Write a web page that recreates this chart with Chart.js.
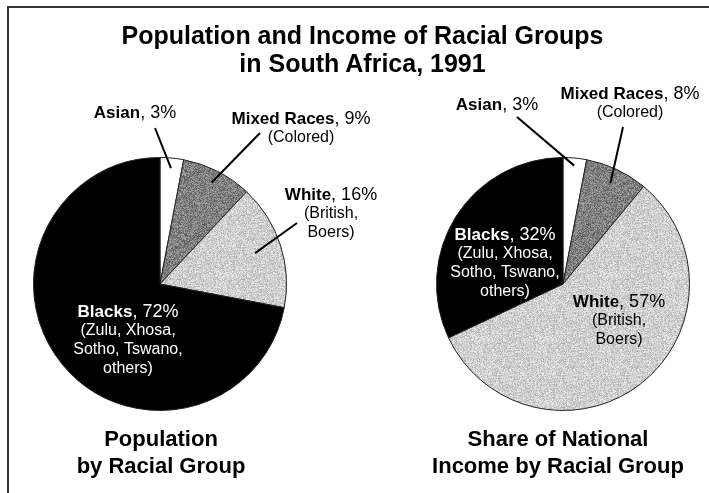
<!DOCTYPE html>
<html><head><meta charset="utf-8">
<script src="https://cdn.jsdelivr.net/npm/chart.js@4.4.0/dist/chart.umd.min.js"></script>
<style>
html,body{margin:0;padding:0;background:#fff;}
#wrap{position:relative;width:709px;height:493px;overflow:hidden;background:#fff;font-family:"Liberation Sans",Arial,Helvetica,sans-serif;}
#frame{position:absolute;left:7px;top:6px;width:800px;height:600px;border-left:2px solid #333;border-top:2px solid #333;}
canvas{position:absolute;left:0;top:0;}
.t{position:absolute;text-align:center;font-weight:bold;color:#000;white-space:nowrap;}
</style></head><body>
<div id="wrap">
<div id="frame"></div>
<canvas id="c1" width="709" height="493" style="width:709px;height:493px"></canvas>
<canvas id="c2" width="709" height="493" style="width:709px;height:493px"></canvas>
<div class="t" style="left:8px;width:709px;top:21px;font-size:25px;line-height:28px;">Population and Income of Racial Groups<br>in South Africa, 1991</div>
<div class="t" style="left:11px;width:300px;top:425px;font-size:22px;line-height:27px;">Population<br>by Racial Group</div>
<div class="t" style="left:408px;width:300px;top:425px;font-size:22px;line-height:27px;">Share of National<br>Income by Racial Group</div>
</div>
<script>
// ---- data ----
const categories = ["Asian", "Mixed Races", "White", "Blacks"];
const populationShare = [3, 9, 16, 72];
const incomeShare = [3, 8, 57, 32];
const groupNotes = [[], ["(Colored)"], ["(British,", "Boers)"], ["(Zulu, Xhosa,", "Sotho, Tswano,", "others)"]];

// ---- speckled fills ----
function speckle(base, spread, seed){
  const n = 64, c = document.createElement('canvas'); c.width = c.height = n;
  const g = c.getContext('2d'), img = g.createImageData(n, n);
  let s = seed;
  for (let i = 0; i < n*n; i++){
    s = (s * 1103515245 + 12345) & 0x7fffffff;
    const v = Math.max(0, Math.min(255, base + ((s >> 8) % (2*spread+1)) - spread));
    img.data[i*4] = img.data[i*4+1] = img.data[i*4+2] = v; img.data[i*4+3] = 255;
  }
  g.putImageData(img, 0, 0);
  return document.getElementById('c1').getContext('2d').createPattern(c, 'repeat');
}
const darkFill = speckle(128, 40, 7);
const lightFill = speckle(207, 30, 11);
const sliceColors = ["#ffffff", darkFill, lightFill, "#000000"];

const FONT = '"Liberation Sans", Arial, Helvetica, sans-serif';
const labelPlugin = {
  id: 'sliceLabels',
  afterDatasetsDraw(chart, args, opts){
    const ctx = chart.ctx, meta = chart.getDatasetMeta(0);
    const vals = chart.data.datasets[0].data;
    ctx.save();
    opts.layout.forEach((L, i) => {
      const p = meta.data[i].getProps(['x','y','startAngle','endAngle','outerRadius'], true);
      const cx = p.x, cy = p.y, R = p.outerRadius;
      if (L.lead){
        const mid = (p.startAngle + p.endAngle) / 2;
        ctx.beginPath();
        ctx.moveTo(cx + L.lead[0], cy + L.lead[1]);
        ctx.lineTo(cx + Math.cos(mid) * R * L.lead[2], cy + Math.sin(mid) * R * L.lead[2]);
        ctx.lineWidth = 2; ctx.strokeStyle = '#000'; ctx.stroke();
      }
      const x = cx + L.tx, y = cy + L.ty;
      ctx.fillStyle = L.color || '#000';
      ctx.textBaseline = 'middle';
      const name = categories[i], rest = ', ' + vals[i] + '%';
      ctx.font = 'bold 17px ' + FONT; const w1 = ctx.measureText(name).width;
      ctx.font = '18px ' + FONT; const w2 = ctx.measureText(rest).width;
      let sx = x - (w1 + w2) / 2;
      ctx.textAlign = 'left';
      ctx.font = 'bold 17px ' + FONT; ctx.fillText(name, sx, y);
      ctx.font = '18px ' + FONT; ctx.fillText(rest, sx + w1, y);
      ctx.textAlign = 'center'; ctx.font = '16px ' + FONT;
      groupNotes[i].forEach((t, k) => ctx.fillText(t, x, y + 19 * (k + 1)));
    });
    ctx.restore();
  }
};

function makePie(id, values, pad, layout){
  return new Chart(document.getElementById(id), {
    type: 'pie',
    data: { labels: categories, datasets: [{ data: values, backgroundColor: sliceColors, borderColor: '#222', borderWidth: 1 }] },
    options: {
      responsive: false, animation: false, devicePixelRatio: 1,
      layout: { padding: pad },
      plugins: { legend: { display: false }, tooltip: { enabled: false }, sliceLabels: { layout } }
    },
    plugins: [labelPlugin]
  });
}

makePie('c1', populationShare, { left: 33, right: 422, top: 157, bottom: 82 }, [
  { tx: -25, ty: -171, lead: [-5, -156, 0.92] },
  { tx: 141, ty: -165, lead: [100, -151, 0.90] },
  { tx: 171, ty: -89, lead: [137, -61, 0.79] },
  { tx: -32, ty: 28, color: '#fff' }
]);
makePie('c2', incomeShare, { left: 436, right: 19, top: 157, bottom: 82 }, [
  { tx: -66, ty: -179, lead: [-46, -167, 0.94] },
  { tx: 67, ty: -190, lead: [60, -157, 0.88] },
  { tx: 56, ty: 18 },
  { tx: -58, ty: -49, color: '#fff' }
]);
</script>
</body></html>
